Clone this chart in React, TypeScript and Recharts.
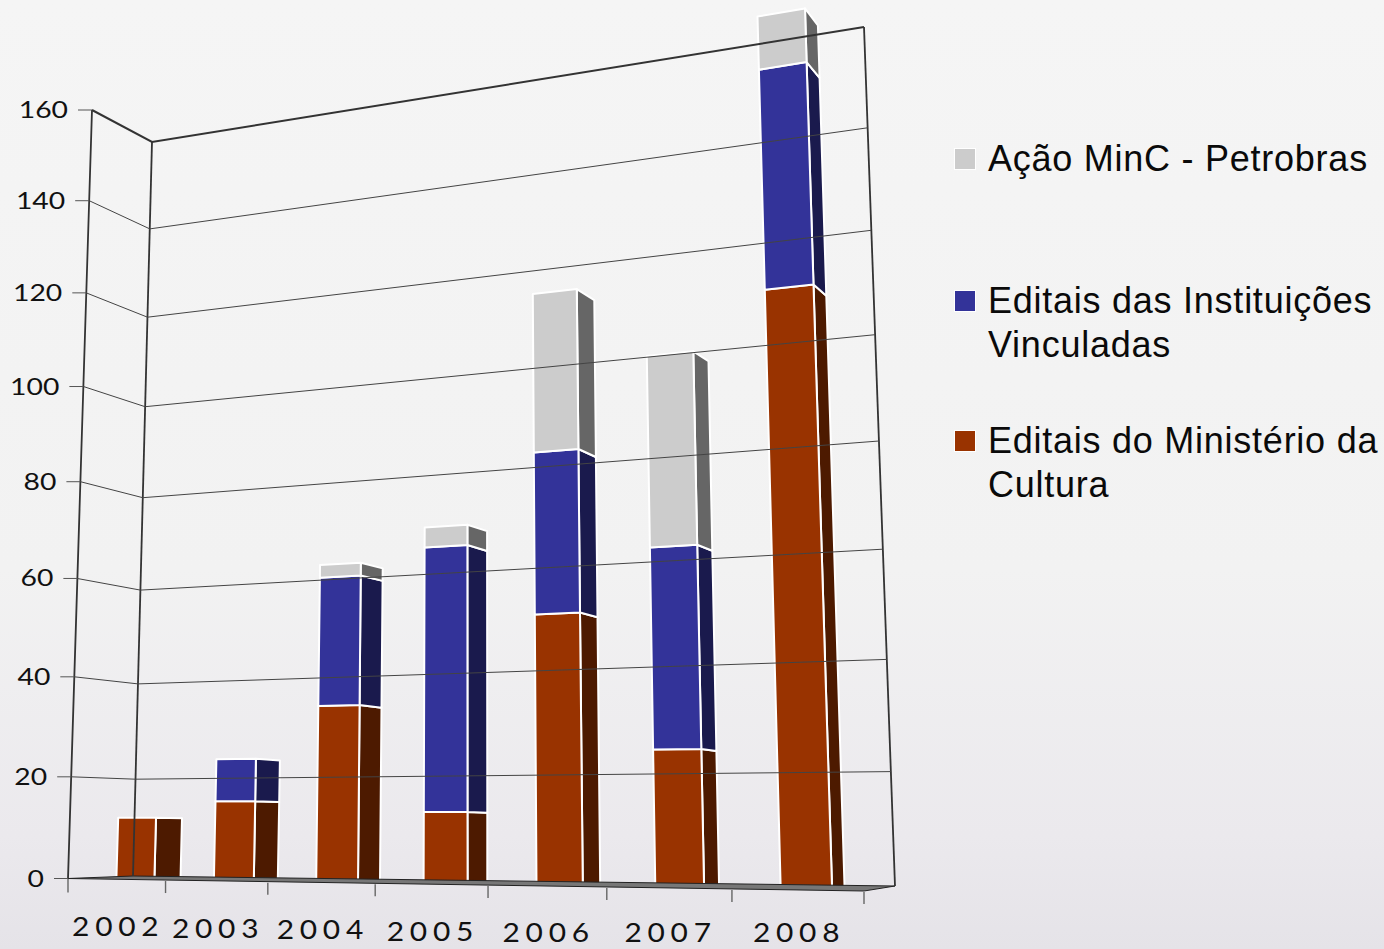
import React from "react";
import { BarChart, Bar, XAxis, YAxis, Legend } from "recharts";

const years = ["2002", "2003", "2004", "2005", "2006", "2007", "2008"];
const ministerio = [12, 15.2, 33.4, 13.1, 49.3, 24.1, 106.5];
const vinculadas = [0, 8.2, 25, 50, 30.6, 36.5, 42];
const petrobras = [0, 0, 2.5, 3.9, 30.8, 35.8, 10.4];
const yTicks = [0, 20, 40, 60, 80, 100, 120, 140, 160];

const seriesNames = {
  ministerio: "Editais do Ministério da Cultura",
  vinculadas: "Editais das Instituições Vinculadas",
  petrobras: "Ação MinC - Petrobras",
};
const rows = years.map((year, i) => ({
  year,
  ministerio: ministerio[i],
  vinculadas: vinculadas[i],
  petrobras: petrobras[i],
}));

const W = 1384;
const H = 949;
const PLOT = { left: 68, right: 864, top: 50, bottom: 878 };
const Y_MAX = 180;
const PX_160 = ((PLOT.bottom - PLOT.top) / Y_MAX) * 160;

type Pt = [number, number];
// perspective calibration of the box the chart is drawn in
const FRONT: Pt[] = [[68, 878.5], [864, 891], [833, -16], [92, 110]];
const BACK: Pt[] = [[133, 876], [895, 886], [864, 27], [152, 142]];
const VP: Pt = [1450, 845];
const BAR_NEAR = 0.0145;
const BAR_FAR = 0.0343;

function quadMap(q: Pt[]) {
  const [[x0, y0], [x1, y1], [x2, y2], [x3, y3]] = q;
  const dx1 = x1 - x2, dx2 = x3 - x2, sx = x0 - x1 + x2 - x3;
  const dy1 = y1 - y2, dy2 = y3 - y2, sy = y0 - y1 + y2 - y3;
  const den = dx1 * dy2 - dx2 * dy1;
  const g = (sx * dy2 - dx2 * sy) / den;
  const h = (dx1 * sy - sx * dy1) / den;
  const a = x1 - x0 + g * x1, b = x3 - x0 + h * x3;
  const d = y1 - y0 + g * y1, e = y3 - y0 + h * y3;
  return (u: number, v: number): Pt => {
    const w = g * u + h * v + 1;
    return [(a * u + b * v + x0) / w, (d * u + e * v + y0) / w];
  };
}
const frontMap = quadMap(FRONT);
const backMap = quadMap(BACK);
const toU = (px: number) => (px - PLOT.left) / (PLOT.right - PLOT.left);
const toV = (py: number) => (PLOT.bottom - py) / PX_160;
const front = (px: number, py: number) => frontMap(toU(px), toV(py));
const back = (px: number, py: number) => backMap(toU(px), toV(py));
const depth = (p: Pt, s: number): Pt => [p[0] + s * (VP[0] - p[0]), p[1] + s * (VP[1] - p[1])];
const poly = (pts: Pt[]) => pts.map((p) => `${p[0].toFixed(1)},${p[1].toFixed(1)}`).join(" ");

const COLORS = {
  ministerio: ["#993300", "#4d1a00"],
  vinculadas: ["#333399", "#1a1a4d"],
  petrobras: ["#cccccc", "#666666"],
};

function Box3D(props: any) {
  const { x, y, width, height, fill, side } = props;
  if (!height || height <= 0) return null;
  const tl = front(x, y), tr = front(x + width, y);
  const bl = front(x, y + height), br = front(x + width, y + height);
  const face = [depth(bl, BAR_NEAR), depth(br, BAR_NEAR), depth(tr, BAR_NEAR), depth(tl, BAR_NEAR)];
  const sideFace = [depth(br, BAR_NEAR), depth(br, BAR_FAR), depth(tr, BAR_FAR), depth(tr, BAR_NEAR)];
  return (
    <g>
      <polygon points={poly(sideFace)} fill={side} stroke="#ffffff" strokeWidth={2} strokeLinejoin="round" />
      <polygon points={poly(face)} fill={fill} stroke="#ffffff" strokeWidth={2} strokeLinejoin="round" />
    </g>
  );
}

const LABEL_FONT = "Lato, 'Open Sans', sans-serif";

function YTick(props: any) {
  const { y, payload } = props;
  const a = front(PLOT.left, y);
  const b = back(PLOT.left, y);
  const c = back(PLOT.right, y);
  const top = payload.value === 160;
  const zero = payload.value === 0;
  const w = top ? 2 : 1;
  const col = top ? "#333333" : "#444444";
  return (
    <g>
      {zero && (
        <g>
          <polygon
            points={poly([FRONT[0], FRONT[1], BACK[1], BACK[0]])}
            fill="#777777"
            stroke="#222222"
            strokeWidth={1}
          />
          <polyline points={poly([FRONT[0], FRONT[3]])} fill="none" stroke="#333333" strokeWidth={1.8} />
          <polyline points={poly([BACK[0], BACK[3]])} fill="none" stroke="#333333" strokeWidth={1.8} />
          <polyline points={poly([BACK[1], BACK[2]])} fill="none" stroke="#333333" strokeWidth={1.8} />
        </g>
      )}
      <line x1={a[0] - 14} y1={a[1]} x2={a[0]} y2={a[1]} stroke="#555555" strokeWidth={1} />
      {!zero && <polyline points={poly([a, b, c])} fill="none" stroke={col} strokeWidth={w} />}
      <text
        transform={`translate(${a[0] - 24},${a[1] + 8}) scale(1.18,1)`}
        textAnchor="end"
        fontFamily={LABEL_FONT}
        fontSize={24}
        fill="#111111"
      >
        {payload.value}
      </text>
    </g>
  );
}

function XTick(props: any) {
  const { x, payload, index } = props;
  const band = (PLOT.right - PLOT.left) / years.length;
  const axisY = PLOT.bottom;
  const right = front(x + band / 2, axisY);
  const left = front(x - band / 2, axisY);
  const mid = front(x, axisY);
  return (
    <g>
      <line x1={right[0]} y1={right[1] + 1} x2={right[0]} y2={right[1] + 13} stroke="#666666" strokeWidth={1.4} />
      {index === 0 && (
        <line x1={left[0]} y1={left[1]} x2={left[0]} y2={left[1] + 14} stroke="#666666" strokeWidth={1.4} />
      )}
      <text
        transform={`translate(${mid[0] + 2},${Math.min(mid[1] + 57, 942)}) scale(1.15,1)`}
        textAnchor="middle"
        fontFamily={LABEL_FONT}
        fontSize={26}
        letterSpacing={5}
        fill="#111111"
      >
        {payload.value}
      </text>
    </g>
  );
}

const legendRowTop = [137, 279, 419];

function LegendBox(props: any) {
  const items = props.payload || [];
  return (
    <div style={{ position: "relative", width: W, height: H }}>
      {items.map((it: any, i: number) => (
        <div
          key={it.value}
          style={{
            position: "absolute",
            left: 988,
            top: legendRowTop[i],
            width: 394,
            fontFamily: "'Liberation Sans', Arial, sans-serif",
            fontSize: 36,
            lineHeight: "44px",
            color: "#0a0a0a",
            letterSpacing: 0.75,
          }}
        >
          <span
            style={{
              position: "absolute",
              left: -33,
              top: 12,
              width: 20,
              height: 20,
              background: it.color,
              boxShadow: "0 0 0 1px #ffffff",
            }}
          />
          {it.value}
        </div>
      ))}
    </div>
  );
}

export default function App() {
  return (
    <div
      style={{
        position: "absolute",
        left: 0,
        top: 0,
        width: W,
        height: H,
        overflow: "hidden",
        background: "linear-gradient(180deg,#f5f5f5 0%,#f2f2f2 60%,#ebe9ed 88%,#e5e3e8 100%)",
      }}
    >
      <BarChart
        width={W}
        height={H}
        data={rows}
        barCategoryGap="30%"
        margin={{ top: PLOT.top, right: W - PLOT.right, bottom: H - PLOT.bottom - 60, left: PLOT.left - 60 }}
      >
        <XAxis dataKey="year" height={60} axisLine={false} tickLine={false} interval={0} tick={<XTick />} />
        <YAxis
          width={60}
          domain={[0, Y_MAX]}
          ticks={yTicks}
          axisLine={false}
          tickLine={false}
          interval={0}
          tick={<YTick />}
        />
        <Legend
          layout="horizontal"
          verticalAlign="middle"
          align="center"
          content={<LegendBox />}
          wrapperStyle={{ position: "absolute", left: 0, top: 0, width: W, height: H, pointerEvents: "none" }}
        />
        <Bar
          dataKey="ministerio"
          name={seriesNames.ministerio}
          stackId="a"
          fill={COLORS.ministerio[0]}
          shape={(p: any) => <Box3D {...p} side={COLORS.ministerio[1]} />}
          isAnimationActive={false}
        />
        <Bar
          dataKey="vinculadas"
          name={seriesNames.vinculadas}
          stackId="a"
          fill={COLORS.vinculadas[0]}
          shape={(p: any) => <Box3D {...p} side={COLORS.vinculadas[1]} />}
          isAnimationActive={false}
        />
        <Bar
          dataKey="petrobras"
          name={seriesNames.petrobras}
          stackId="a"
          fill={COLORS.petrobras[0]}
          shape={(p: any) => <Box3D {...p} side={COLORS.petrobras[1]} />}
          isAnimationActive={false}
        />
      </BarChart>
    </div>
  );
}
